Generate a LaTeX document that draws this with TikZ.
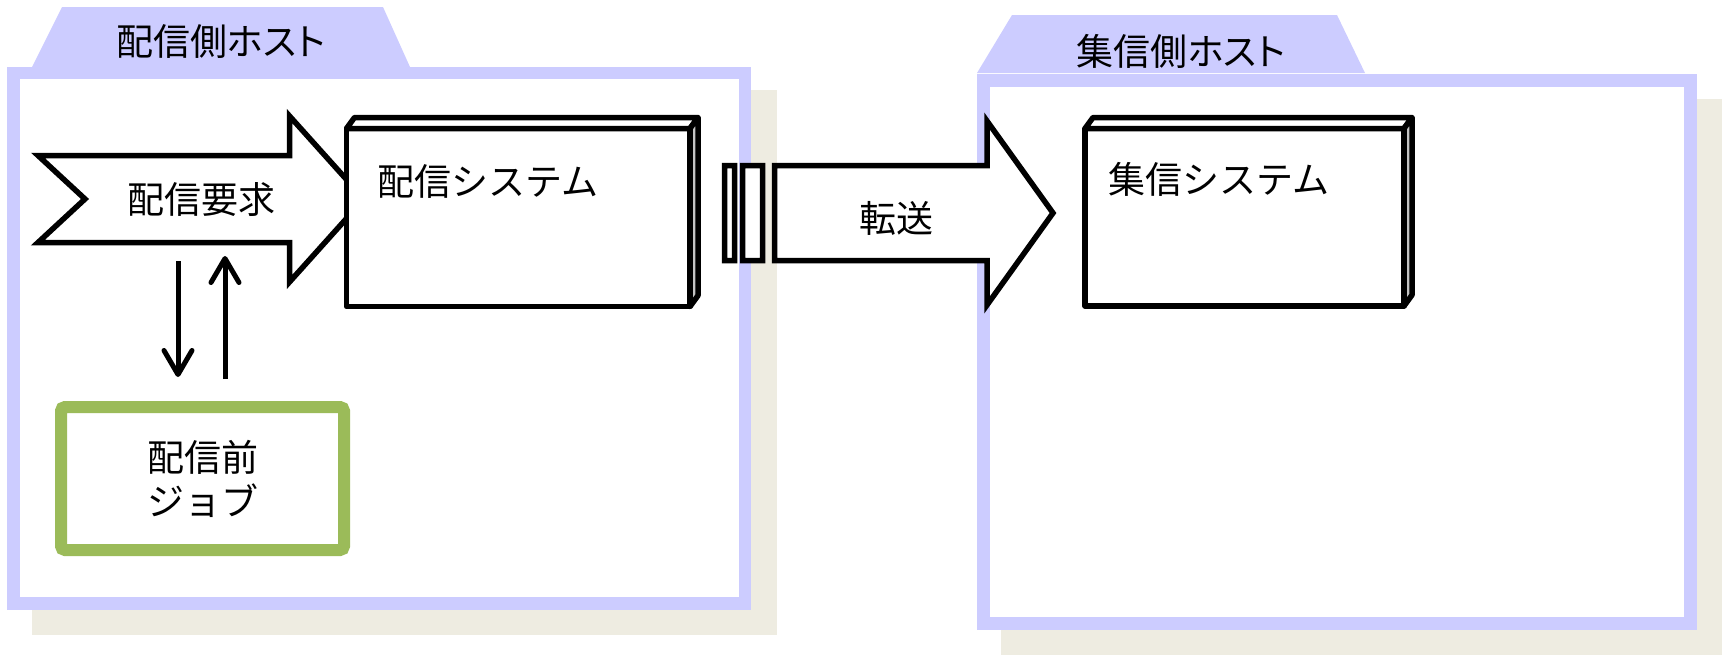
\documentclass[tikz,border=0pt]{standalone}
\usepackage{fontspec}
\newfontfamily\jpfont{Noto Sans CJK JP}
\newfontfamily\jptitlefont[RawFeature=+palt]{Noto Sans CJK JP}
\usetikzlibrary{arrows.meta}
\definecolor{hostline}{HTML}{CCCCFF}
\definecolor{hostshade}{HTML}{EEECE1}
\definecolor{jobline}{HTML}{9BBB59}
\definecolor{sysside}{HTML}{C4C4C4}
\tikzset{font={\jpfont\fontsize{37pt}{44pt}\selectfont}}

\begin{document}
\begin{tikzpicture}[x=1pt,y=-1pt,
    hostframe/.style={draw=hostline,line width=12.5pt},
    hosttitle/.style={font={\jptitlefont\fontsize{37pt}{44pt}\selectfont}},
    blockarrow/.style={draw=black,fill=white,line width=5.5pt},
    sysbox/.style={draw=black,fill=white,line width=5.5pt,line join=round,outer sep=0pt,inner sep=0pt},
    jobbox/.style={draw=jobline,fill=white,line width=12pt,rounded corners=4pt,outer sep=0pt,
      minimum width=283pt,minimum height=143pt,align=center},
    flowarrow/.style={line width=5pt,-{Straight Barb[length=24pt,width=28pt,round]}}]
      \useasboundingbox (0,0) rectangle (1729,662);
      %Shadows
      \fill[hostshade] (32,90) rectangle (777,635);
      \fill[hostshade] (1001,99) rectangle (1722,655);
      %Hosts
      \draw[hostframe,fill=white] (13.25,73) rectangle (745,603.5);
      \draw[hostframe,fill=white,line width=13pt] (983.5,80) rectangle (1690.5,623.5);
      \fill[hostline] (32,67) -- (62,7) -- (383,7) -- (410,67) -- cycle;
      \fill[hostline] (977,73) -- (1012,15) -- (1337,15) -- (1365,73) -- cycle;
      \node[hosttitle] (srctitle) at (221,42) {配信側ホスト};
      \node[hosttitle] (dsttitle) at (1181,51) {集信側ホスト};
      %Request
      \draw[blockarrow] (38,155.5) -- (289.5,155.5) -- (289.5,116) -- (364,199)
        -- (289.5,282) -- (289.5,242.5) -- (38,242.5) -- (85,199) -- cycle;
      \node (reqtext) at (201,200) {配信要求};
      %Systems
      \node[sysbox,minimum width=343.5pt,minimum height=178pt] (srcsys) at (518.25,217.5) {};
      \node[sysbox,minimum width=319pt,minimum height=177.5pt] (dstsys) at (1244.5,217.25) {};
      \foreach \b in {srcsys,dstsys}{
        \draw[sysbox] (\b.north west) -- ++(8,-11) -- ([shift={(8,-11)}]\b.north east) -- (\b.north east) -- cycle;
        \draw[sysbox,fill=sysside] (\b.north east) -- ++(8,-11) -- ([shift={(8,-11)}]\b.south east) -- (\b.south east) -- cycle;
      }
      \node[anchor=west,inner sep=0pt] (srcsystext) at (377,181) {配信システム};
      \node[anchor=west,inner sep=0pt] (dstsystext) at (1108,179) {集信システム};
      %Transfer
      \draw[blockarrow] (774.5,165.5) -- (987,165.5) -- (987,121) -- (1053,213)
        -- (987,305) -- (987,260.5) -- (774.5,260.5) -- cycle
        (724.5,165.5) rectangle (734.5,260.5)
        (742.5,165.5) rectangle (762.5,260.5);
      \node (movetext) at (896,218) {転送};
      %Job
      \node[jobbox] (job) at (202.5,478.5) {配信前\\ジョブ};
      \coordinate (askdown) at (178,261);
      \coordinate (askup) at (225,256);
      \draw[flowarrow,shorten >=30pt] (askdown) -- (askdown |- job.north);
      \draw[flowarrow,shorten <=28pt] (askup |- job.north) -- (askup);
    \end{tikzpicture}
\end{document}
